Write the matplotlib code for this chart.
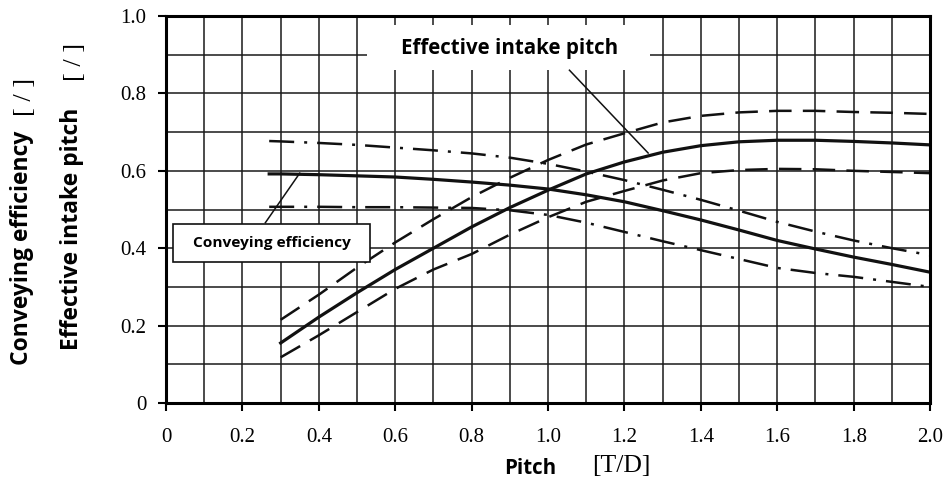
import numpy as np
import matplotlib
matplotlib.use('Agg')
import matplotlib.pyplot as plt
from matplotlib.patches import Rectangle

# conveying efficiency (solid) with its spread (dash-dot)
x_conv = [0.27, 0.3, 0.4, 0.5, 0.6, 0.7, 0.8, 0.9, 1.0, 1.1, 1.2, 1.3, 1.4, 1.5, 1.6, 1.7, 1.8, 1.9, 2.0]
conv_mid = [0.592, 0.592, 0.590, 0.587, 0.584, 0.578, 0.571, 0.563, 0.553, 0.538, 0.520, 0.497, 0.473, 0.447, 0.420, 0.398, 0.377, 0.358, 0.338]
conv_hi = [0.677, 0.676, 0.672, 0.667, 0.660, 0.653, 0.645, 0.634, 0.618, 0.598, 0.576, 0.551, 0.525, 0.497, 0.468, 0.443, 0.420, 0.400, 0.382]
conv_lo = [0.507, 0.507, 0.507, 0.506, 0.506, 0.505, 0.504, 0.498, 0.486, 0.466, 0.442, 0.418, 0.395, 0.372, 0.349, 0.336, 0.326, 0.313, 0.300]

# effective intake pitch (solid) with its spread (dashed)
x_eff = [0.3, 0.4, 0.5, 0.6, 0.7, 0.8, 0.9, 1.0, 1.1, 1.2, 1.3, 1.4, 1.5, 1.6, 1.7, 1.8, 1.9, 2.0]
eff_mid = [0.155, 0.222, 0.285, 0.345, 0.400, 0.455, 0.505, 0.550, 0.592, 0.623, 0.648, 0.665, 0.675, 0.679, 0.679, 0.676, 0.672, 0.667]
eff_hi = [0.215, 0.280, 0.350, 0.415, 0.475, 0.532, 0.582, 0.628, 0.668, 0.697, 0.725, 0.742, 0.751, 0.755, 0.755, 0.752, 0.750, 0.747]
eff_lo = [0.118, 0.175, 0.235, 0.295, 0.345, 0.385, 0.435, 0.480, 0.520, 0.548, 0.575, 0.594, 0.602, 0.605, 0.604, 0.600, 0.597, 0.594]

xticks = [0, 0.2, 0.4, 0.6, 0.8, 1.0, 1.2, 1.4, 1.6, 1.8, 2.0]
xticklabels = ['0', '0.2', '0.4', '0.6', '0.8', '1.0', '1.2', '1.4', '1.6', '1.8', '2.0']
yticks = [0, 0.2, 0.4, 0.6, 0.8, 1.0]
yticklabels = ['0', '0.2', '0.4', '0.6', '0.8', '1.0']

serif = ['Liberation Serif', 'DejaVu Serif']
sans = ['Open Sans', 'DejaVu Sans']

fig = plt.figure(figsize=(9.51, 4.86), dpi=100)
ax = fig.add_axes([0.1746, 0.1708, 0.8034, 0.7962])
ax.set_xlim(0, 2.0)
ax.set_ylim(0, 1.0)

ax.set_xticks(xticks)
ax.set_xticklabels(xticklabels, fontfamily=serif, fontsize=15)
ax.set_yticks(yticks)
ax.set_yticklabels(yticklabels, fontfamily=serif, fontsize=15)
ax.set_xticks(np.arange(0, 2.01, 0.1), minor=True)
ax.set_yticks(np.arange(0, 1.01, 0.1), minor=True)
ax.tick_params(which='major', direction='out', length=6, width=1.5)
ax.tick_params(axis='x', which='major', pad=12)
ax.tick_params(axis='y', which='major', pad=8)
ax.tick_params(which='minor', length=0)
ax.grid(True, which='both', color='#1a1a1a', linewidth=1.1)
ax.set_axisbelow(True)
for s in ax.spines.values():
    s.set_linewidth(2.2)

ax.plot(x_conv, conv_mid, '-', color='#111111', lw=2.3)
ax.plot(x_conv, conv_hi, color='#111111', lw=1.8, dashes=[10, 4, 1.2, 4])
ax.plot(x_conv, conv_lo, color='#111111', lw=1.8, dashes=[10, 4, 1.2, 4])

ax.plot(x_eff, eff_mid, '-', color='#111111', lw=2.3)
ax.plot(x_eff, eff_hi, color='#111111', lw=1.8, dashes=[9, 4.5])
ax.plot(x_eff, eff_lo, color='#111111', lw=1.8, dashes=[9, 4.5])

# callout: effective intake pitch
ax.add_patch(Rectangle((0.526, 0.86), 0.741, 0.117, facecolor='white',
                       edgecolor='none', zorder=2.5))
ax.plot([1.056, 1.262], [0.86, 0.646], color='#111111', lw=1.1, zorder=3)
ax.text(0.90, 0.917, 'Effective intake pitch', ha='center', va='center',
        fontfamily=sans, fontweight='bold', fontsize=14.8, zorder=3)

# callout: conveying efficiency
ax.plot([0.26, 0.35], [0.466, 0.594], color='#111111', lw=1.1, zorder=3)
ax.add_patch(Rectangle((0.018, 0.364), 0.516, 0.099, facecolor='white',
                       edgecolor='#111111', linewidth=1.2, zorder=2.5))
ax.text(0.276, 0.413, 'Conveying efficiency', ha='center', va='center',
        fontfamily=sans, fontweight='bold', fontsize=11.1, zorder=3)

# axis titles
fig.text(0.023, 0.49, 'Conveying efficiency', rotation=90, ha='center', va='center',
         fontfamily=sans, fontweight='bold', fontsize=16.5)
fig.text(0.026, 0.80, '[ / ]', rotation=90, ha='center', va='center',
         fontfamily=serif, fontsize=19)
fig.text(0.0757, 0.53, 'Effective intake pitch', rotation=90, ha='center', va='center',
         fontfamily=sans, fontweight='bold', fontsize=16.5)
fig.text(0.079, 0.872, '[ / ]', rotation=90, ha='center', va='center',
         fontfamily=serif, fontsize=19)
fig.text(0.557, 0.037, 'Pitch', ha='center', va='center',
         fontfamily=sans, fontweight='bold', fontsize=14.8)
fig.text(0.653, 0.042, '[T/D]', ha='center', va='center',
         fontfamily=serif, fontsize=18.5)

fig.savefig('out.png', dpi=100)
